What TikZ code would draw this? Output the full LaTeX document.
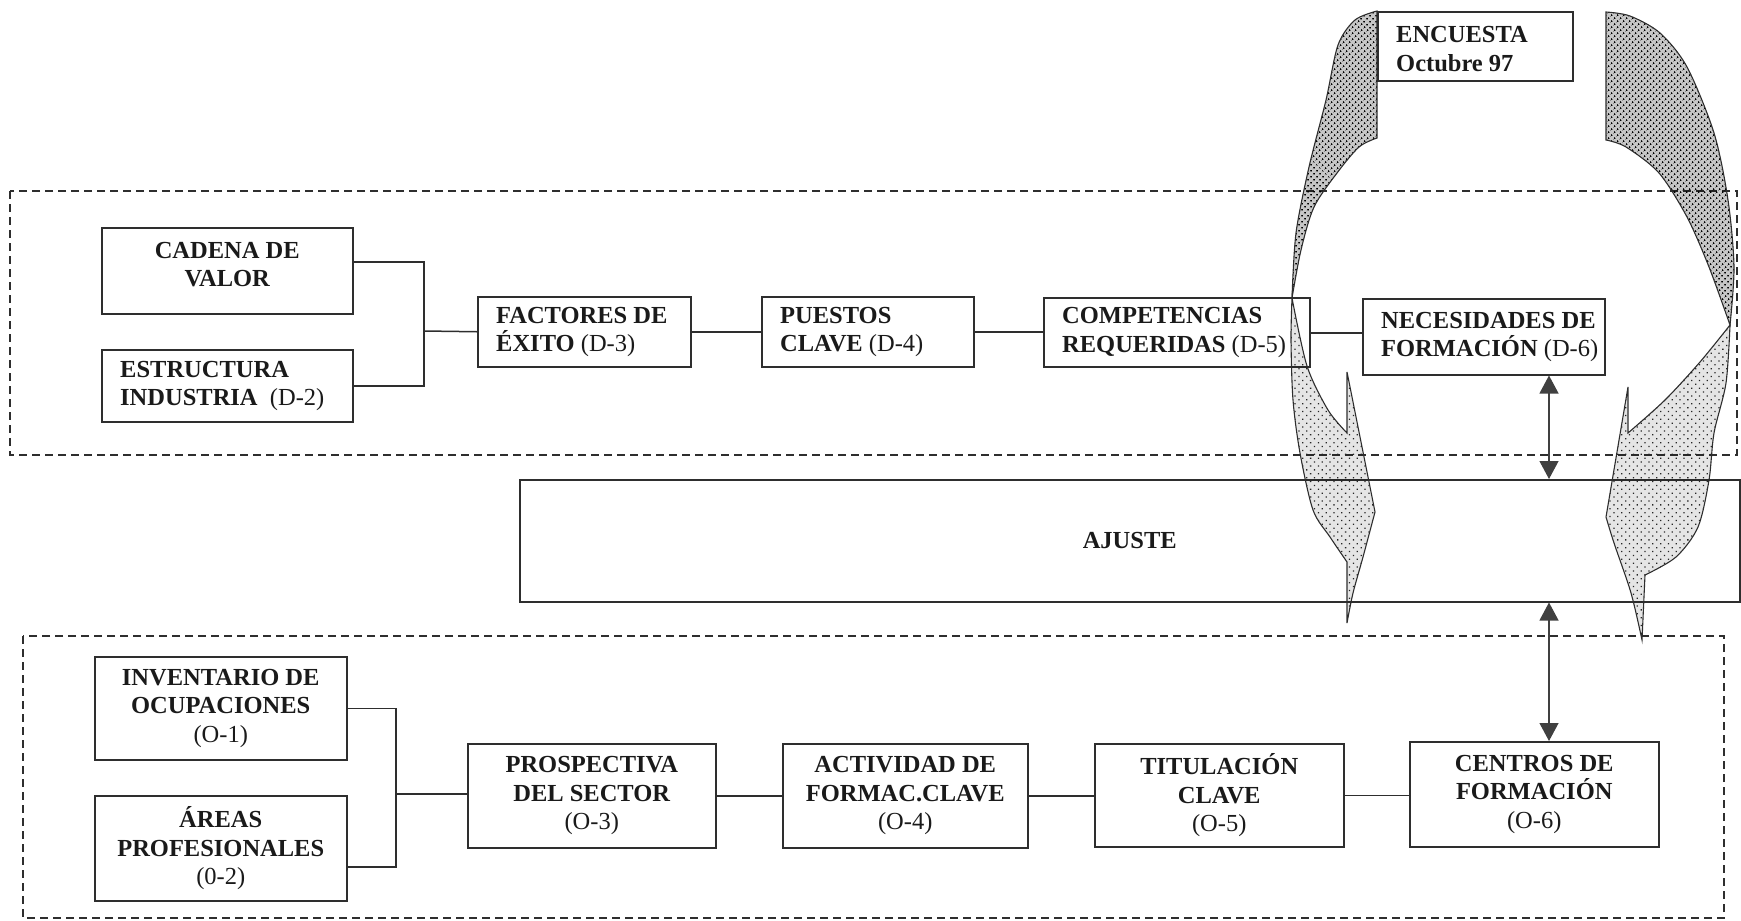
\documentclass[tikz,border=0pt]{standalone}
\usepackage{fontspec}
\setmainfont{Liberation Serif}
\usetikzlibrary{arrows.meta,patterns.meta}
\definecolor{lc}{HTML}{2E2E2E}
\definecolor{tc}{HTML}{1A1A1A}
\definecolor{ac}{HTML}{404040}
\newcommand{\bxfont}{\fontsize{24.5}{28.5}\selectfont\bfseries}
\newcommand{\cd}[1]{{\mdseries #1}}
\begin{document}
\begin{tikzpicture}[x=1pt,y=-1pt,
  frame/.style={draw=lc, line width=1.9pt, dash pattern=on 8pt off 5pt},
  box/.style={draw=lc, line width=1.5pt, inner sep=0pt, anchor=north west, font=\bxfont, text=tc, align=center},
  lab/.style={anchor=west, font=\bxfont, text=tc, align=left, inner sep=0pt, xshift=19pt},
  clab/.style={font=\bxfont, text=tc, align=center, inner sep=0pt},
  wire/.style={draw=lc, line width=1.5pt},
  dbl/.style={draw=ac, line width=1.2pt, {Triangle[length=18pt,width=19pt]}-{Triangle[length=18pt,width=19pt]}},
  darkdots/.style={draw=lc, line width=1.1pt, preaction={fill=black, fill opacity=0.22}, pattern={Dots[distance=4pt, radius=1.1pt, angle=45]}, pattern color=black},
  lightdots/.style={draw=lc, line width=1.1pt, preaction={fill=black, fill opacity=0.1}, pattern={Dots[distance=5.5pt, radius=0.9pt, angle=45]}, pattern color=black!85}
]
\useasboundingbox (0,0) rectangle (1741,921);

% dashed frames
\draw[frame] (10,191) rectangle (1737,455);
\draw[frame] (23,636) rectangle (1724,918);

% top row
\node[box, minimum width=251pt, minimum height=86pt] (cad) at (101,227) {};
\node[clab] (cadt) at ([yshift=6pt]cad.center) {CADENA DE\\VALOR};
\node[box, minimum width=251pt, minimum height=72pt] (est) at (101,349) {};
\node[lab] (estt) at (est.west) {ESTRUCTURA\\INDUSTRIA\ \ \cd{(D-2)}};
\node[box, minimum width=213pt, minimum height=70pt] (fac) at (477,296) {};
\node[lab] (fact) at (fac.west) {FACTORES DE\\ÉXITO \cd{(D-3)}};
\node[box, minimum width=212pt, minimum height=70pt] (pue) at (761,296) {};
\node[lab] (puet) at (pue.west) {PUESTOS\\CLAVE \cd{(D-4)}};
\node[box, minimum width=266pt, minimum height=69pt] (com) at (1043,297) {};
\node[lab] (comt) at (com.west) {COMPETENCIAS\\REQUERIDAS \cd{(D-5)}};
\node[box, minimum width=242pt, minimum height=76pt] (nec) at (1362,298) {};
\node[lab] (nect) at (nec.west) {NECESIDADES DE\\FORMACIÓN \cd{(D-6)}};
\node[box, minimum width=195pt, minimum height=69pt] (enc) at (1377,11) {};
\node[lab] (enct) at ([yshift=-3pt]enc.west) {ENCUESTA\\Octubre 97};

% ajuste
\node[box, minimum width=1220pt, minimum height=122pt] (aju) at (519,479) {AJUSTE};

% bottom row
\node[box, minimum width=252pt, minimum height=103pt] (inv) at (94,656) {INVENTARIO DE\\OCUPACIONES\\\cd{(O-1)}};
\node[box, minimum width=252pt, minimum height=105pt] (are) at (94,795) {ÁREAS\\PROFESIONALES\\\cd{(0-2)}};
\node[box, minimum width=248pt, minimum height=104pt] (pro) at (467,743) {PROSPECTIVA\\DEL SECTOR\\\cd{(O-3)}};
\node[box, minimum width=245pt, minimum height=104pt] (act) at (782,743) {ACTIVIDAD DE\\FORMAC.CLAVE\\\cd{(O-4)}};
\node[box, minimum width=249pt, minimum height=103pt] (tit) at (1094,743) {TITULACIÓN\\CLAVE\\\cd{(O-5)}};
\node[box, minimum width=249pt, minimum height=105pt] (cen) at (1409,741) {CENTROS DE\\FORMACIÓN\\\cd{(O-6)}};

% connectors top
\coordinate (j1) at (424,331);
\draw[wire] ([yshift=9pt]cad.east) -| (j1);
\draw[wire] (est.east) -| (j1);
\draw[wire] (j1) -- (fac.west);
\draw[wire] (fac.east) -- (pue.west);
\draw[wire] (pue.east) -- (pue.east -| com.west);
\draw[wire] ([yshift=-0.5pt]com.east) -- ([yshift=-0.5pt]com.east -| nec.west);

% connectors bottom
\coordinate (j2) at (396,794);
\draw[wire] (inv.east) -| (j2);
\draw[wire] ([yshift=-18.5pt]are.east) -| (j2);
\draw[wire] (j2) -- (j2 -| pro.west);
\draw[wire] (pro.east) -- (pro.east -| act.west);
\draw[wire] (act.east) -- (act.east -| tit.west);
\draw[wire] (tit.east) -- (tit.east -| cen.west);

% double arrows
\coordinate (ax) at (1549,0);
\draw[dbl] (nec.south -| ax) -- (aju.north -| ax);
\draw[dbl] (aju.south -| ax) -- (cen.north -| ax);

% left curved arrow
\path[darkdots] (1377,11) -- (1377,138)
  -- plot[smooth] coordinates {(1377,138) (1359,147) (1337,173) (1314,207) (1301,250) (1292,298)}
  -- plot[smooth] coordinates {(1292,298) (1296,233) (1309,167) (1326,100) (1338,45) (1355,20) (1377,11)}
  -- cycle;
\path[lightdots] (1292,298)
  -- plot[smooth] coordinates {(1292,298) (1291,340) (1293,400) (1300,453) (1313,510) (1330,537) (1347,562)}
  -- (1347,623)
  -- plot[smooth] coordinates {(1347,623) (1353,593) (1363,557) (1375,512)}
  -- (1347,372) -- (1347,433)
  -- plot[smooth] coordinates {(1347,433) (1328,410) (1307,366) (1292,298)}
  -- cycle;

% right curved arrow
\path[darkdots] (1606,12) -- (1606,140)
  -- plot[smooth] coordinates {(1606,140) (1626,147) (1659,173) (1687,217) (1709,267) (1730,325)}
  -- plot[smooth] coordinates {(1730,325) (1734,267) (1728,200) (1714,133) (1687,67) (1660,33) (1630,16) (1606,12)}
  -- cycle;
\path[lightdots] (1730,325)
  -- plot[smooth] coordinates {(1730,325) (1726,383) (1714,433) (1709,480) (1698,527) (1676,557) (1645,575)}
  -- (1642,640)
  -- plot[smooth] coordinates {(1642,640) (1631,593) (1614,543) (1606,517)}
  -- (1628,387) -- (1628,433)
  -- plot[smooth] coordinates {(1628,433) (1665,400) (1700,362) (1730,325)}
  -- cycle;
\end{tikzpicture}
\end{document}
